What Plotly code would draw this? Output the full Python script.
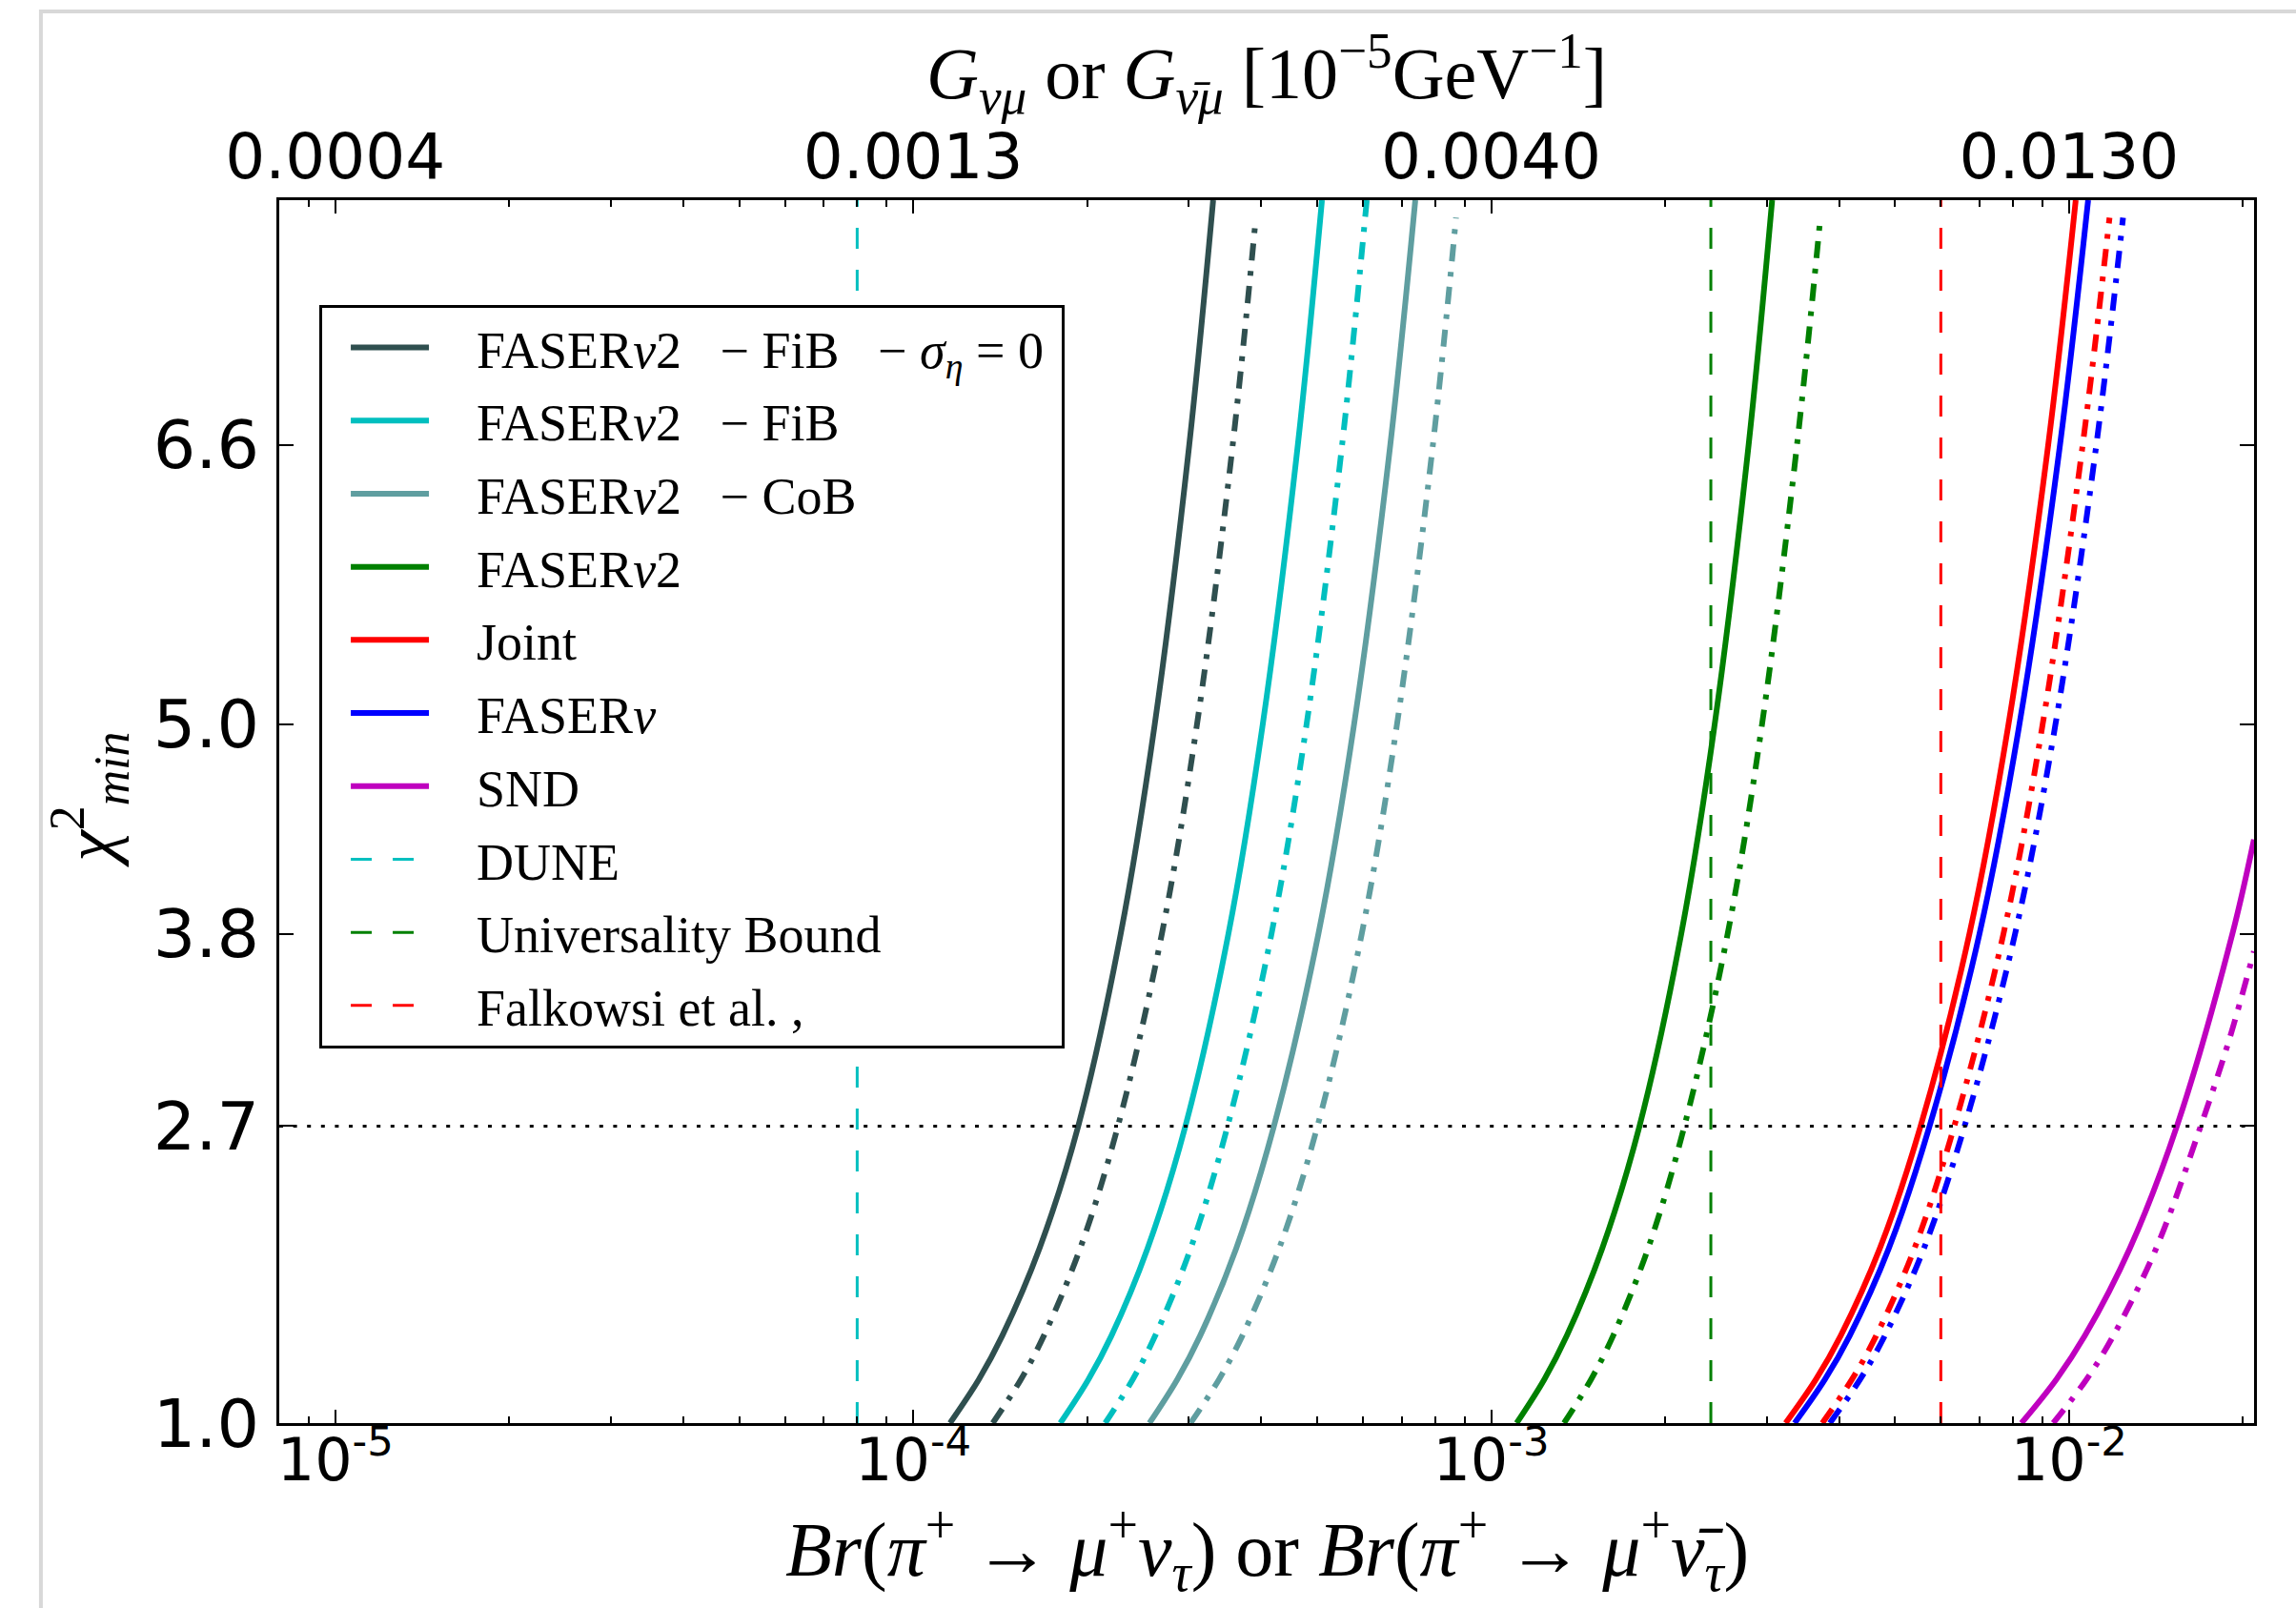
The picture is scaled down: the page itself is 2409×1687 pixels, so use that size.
import math
import plotly.graph_objects as go

# ---------------- data ----------------
CHI2 = [1.0, 1.25, 1.5, 2.0, 2.7, 3.8, 5.0, 6.6, 8.0]
CHI2_DD = [1.0, 1.25, 1.5, 2.0, 2.7, 3.8, 5.0, 6.6, 7.9]

fib0_solid = [1.158e-4, 1.299e-4, 1.426e-4, 1.654e-4, 1.930e-4, 2.286e-4, 2.618e-4, 3.004e-4, 3.304e-4]
fib0_dd = [1.373e-4, 1.536e-4, 1.683e-4, 1.945e-4, 2.261e-4, 2.693e-4, 3.098e-4, 3.572e-4, 3.916e-4]
fib_solid = [1.797e-4, 2.010e-4, 2.203e-4, 2.544e-4, 2.958e-4, 3.511e-4, 4.026e-4, 4.630e-4, 5.097e-4]
fib_dd = [2.149e-4, 2.398e-4, 2.623e-4, 3.021e-4, 3.500e-4, 4.168e-4, 4.794e-4, 5.523e-4, 6.093e-4]
cob_solid = [2.563e-4, 2.864e-4, 3.137e-4, 3.622e-4, 4.209e-4, 5.025e-4, 5.793e-4, 6.692e-4, 7.393e-4]
cob_dd = [3.019e-4, 3.382e-4, 3.711e-4, 4.298e-4, 5.007e-4, 5.972e-4, 6.873e-4, 7.930e-4, 8.695e-4]
f2_solid = [1.107e-3, 1.236e-3, 1.352e-3, 1.557e-3, 1.806e-3, 2.133e-3, 2.437e-3, 2.790e-3, 3.064e-3]
f2_dd = [1.337e-3, 1.489e-3, 1.626e-3, 1.869e-3, 2.160e-3, 2.566e-3, 2.943e-3, 3.383e-3, 3.713e-3]
joint_solid = [3.233e-3, 3.648e-3, 4.026e-3, 4.706e-3, 5.536e-3, 6.723e-3, 7.857e-3, 9.204e-3, 1.027e-2]
joint_dd = [3.741e-3, 4.211e-3, 4.637e-3, 5.402e-3, 6.331e-3, 7.700e-3, 9.002e-3, 1.056e-2, 1.175e-2]
fnu_solid = [3.351e-3, 3.781e-3, 4.173e-3, 4.877e-3, 5.737e-3, 6.998e-3, 8.207e-3, 9.647e-3, 1.079e-2]
fnu_dd = [3.856e-3, 4.350e-3, 4.800e-3, 5.609e-3, 6.596e-3, 8.064e-3, 9.474e-3, 1.115e-2, 1.240e-2]
snd_solid_chi2 = [1.0, 1.25, 1.5, 2.0, 2.7, 3.8, 4.34]
snd_solid = [8.272e-3, 9.506e-3, 1.065e-2, 1.274e-2, 1.537e-2, 1.917e-2, 2.089e-2]
snd_dd_chi2 = [1.0, 1.25, 1.5, 2.0, 2.7, 3.2, 3.7]
snd_dd = [9.389e-3, 1.072e-2, 1.193e-2, 1.415e-2, 1.690e-2, 1.895e-2, 2.089e-2]

DUNE_BR = 8.0e-5
UNIV_BR = 2.4e-3
FALK_BR = 6.0e-3
CHI2_LINE = 2.7

X_RANGE = [8.0e-6, 2.09e-2]
Y_RANGE = [1.0, 8.0]
X_TICKS = [1e-5, 1e-4, 1e-3, 1e-2]
X_TICKTEXT = ["10<sup>-5</sup>", "10<sup>-4</sup>", "10<sup>-3</sup>", "10<sup>-2</sup>"]
TOP_TICKTEXT = ["0.0004", "0.0013", "0.0040", "0.0130"]
Y_TICKS = [1.0, 2.7, 3.8, 5.0, 6.6]
Y_TICKTEXT = ["1.0", "2.7", "3.8", "5.0", "6.6"]

NB = "\u00a0"
PAD = NB * 3 + "\u200a"
FN = "FASER<i>ν</i>2"
series = [
    (FN + NB * 3 + "−" + NB + "FiB" + NB * 3 + "−" + NB + "<i>σ</i><sub><i>η</i></sub>" + NB + "=" + NB + "0" + NB,
     "#2F4F4F", fib0_solid, CHI2, fib0_dd, CHI2_DD),
    (FN + NB * 3 + "−" + NB + "FiB", "#00BFBF", fib_solid, CHI2, fib_dd, CHI2),
    (FN + NB * 3 + "−" + NB + "CoB", "#5F9EA0", cob_solid, CHI2, cob_dd, CHI2_DD),
    (FN, "#008000", f2_solid, CHI2, f2_dd, CHI2_DD),
    ("Joint", "#FF0000", joint_solid, CHI2, joint_dd, CHI2_DD),
    ("FASER<i>ν</i>", "#0000FF", fnu_solid, CHI2, fnu_dd, CHI2_DD),
    ("SND", "#BF00BF", snd_solid, snd_solid_chi2, snd_dd, snd_dd_chi2),
]
vlines = [
    ("DUNE", "#00BFBF", DUNE_BR),
    ("Universality Bound", "#008000", UNIV_BR),
    ("Falkowsi et al. ,", "#FF0000", FALK_BR),
]

fig = go.Figure()
LW = 6
for i, (name, col, xs, ys, xd, yd) in enumerate(series):
    fig.add_trace(go.Scatter(x=xs, y=ys, mode="lines", name=PAD + name,
                             line=dict(color=col, width=LW, shape="spline", smoothing=1.0),
                             legendgroup="g%d" % i, showlegend=True))
for i, (name, col, xs, ys, xd, yd) in enumerate(series):
    fig.add_trace(go.Scatter(x=xd, y=yd, mode="lines", name="dd%d" % i,
                             line=dict(color=col, width=LW, shape="spline", smoothing=1.0,
                                       dash="18px,11px,5px,11px"),
                             showlegend=False, hoverinfo="skip"))
for j, (name, col, xv) in enumerate(vlines):
    fig.add_trace(go.Scatter(x=[xv, xv], y=Y_RANGE, mode="lines", name=PAD + name,
                             line=dict(color=col, width=3, dash="22px,22px"),
                             legendgroup="v%d" % j, showlegend=True))

# top axis carrier (invisible)
fig.add_trace(go.Scatter(x=X_RANGE, y=Y_RANGE, xaxis="x2", mode="lines",
                         line=dict(width=0), showlegend=False, hoverinfo="skip", opacity=0))

minor_vals = [k * 10.0 ** e for e in range(-6, -1) for k in range(2, 10)]
lrange = [math.log10(X_RANGE[0]), math.log10(X_RANGE[1])]

fig.update_layout(
    width=2409, height=1687,
    margin=dict(l=293, r=44, t=210, b=194, pad=0),
    paper_bgcolor="white", plot_bgcolor="white",
    xaxis=dict(type="log", range=lrange, tickvals=X_TICKS, ticktext=X_TICKTEXT,
               ticks="inside", ticklen=14, tickwidth=2, tickcolor="black",
               minor=dict(tickvals=minor_vals, ticks="inside", ticklen=7, tickwidth=2, tickcolor="black"),
               showline=True, linewidth=3, linecolor="black", mirror=True,
               showgrid=False, zeroline=False,
               tickfont=dict(family="DejaVu Sans", size=62, color="black"), ticklabelstandoff=-17),
    xaxis2=dict(type="log", range=lrange, overlaying="x", side="top", anchor="y",
                tickvals=X_TICKS, ticktext=TOP_TICKTEXT,
                ticks="inside", ticklen=14, tickwidth=2, tickcolor="black",
                minor=dict(tickvals=minor_vals, ticks="inside", ticklen=7, tickwidth=2, tickcolor="black"),
                showline=False, showgrid=False, zeroline=False,
                tickfont=dict(family="DejaVu Sans", size=66, color="black"),
                ticklabelstandoff=9),
    yaxis=dict(range=Y_RANGE, tickvals=Y_TICKS, ticktext=Y_TICKTEXT,
               ticks="inside", ticklen=15, tickwidth=2, tickcolor="black",
               showline=True, linewidth=3, linecolor="black", mirror="ticks",
               showgrid=False, zeroline=False,
               tickfont=dict(family="DejaVu Sans", size=70, color="black"), ticklabelstandoff=4),
    legend=dict(x=0.0203, y=0.9143, xanchor="left", yanchor="top",
                bgcolor="white", bordercolor="black", borderwidth=3,
                font=dict(family="Liberation Serif", size=54, color="black"),
                tracegroupgap=3.5, itemwidth=82, indentation=25, traceorder="grouped"),
    showlegend=True,
)

serif = "Liberation Serif"
fig.add_annotation(xref="paper", yref="paper", x=0.5, y=-0.103, xanchor="center", yanchor="middle",
                   showarrow=False, font=dict(family=serif, size=80, color="black"),
                   text="<i>Br</i>(<i>π</i><sup>+</sup>" + NB + "→" + NB + "<i>μ</i><sup>+</sup><i>ν</i><sub><i>τ</i></sub>)"
                        + NB + "or" + NB +
                        "<i>Br</i>(<i>π</i><sup>+</sup>" + NB + "→" + NB + "<i>μ</i><sup>+</sup><i>ν̄</i><sub><i>τ</i></sub>)")
fig.add_annotation(xref="paper", yref="paper", x=0.5, y=1.103, xanchor="center", yanchor="middle",
                   showarrow=False, font=dict(family=serif, size=76, color="black"),
                   text="<i>G</i><sub><i>νμ</i></sub> or <i>G</i><sub><i>ν̄μ</i></sub> "
                        "[10<sup>−5</sup>GeV<sup>−1</sup>]")
fig.add_annotation(xref="paper", yref="paper", x=-0.096, y=0.51, xanchor="center", yanchor="middle",
                   showarrow=False, textangle=-90, font=dict(family=serif, size=74, color="black"),
                   text="<i>χ</i><sup>2</sup><sub><i>min</i></sub>")

# horizontal threshold line
fig.add_shape(type="line", xref="paper", yref="y", x0=0, x1=1, y0=CHI2_LINE, y1=CHI2_LINE,
              line=dict(color="black", width=3, dash="4px,10.6px"))
# card edge (page shadow)
fig.add_shape(type="rect", xref="paper", yref="paper", x0=-0.1207, x1=1.5, y0=-1.0, y1=1.1543,
              line=dict(color="#D8D8D8", width=4), layer="below")

fig.write_html("out.html")
